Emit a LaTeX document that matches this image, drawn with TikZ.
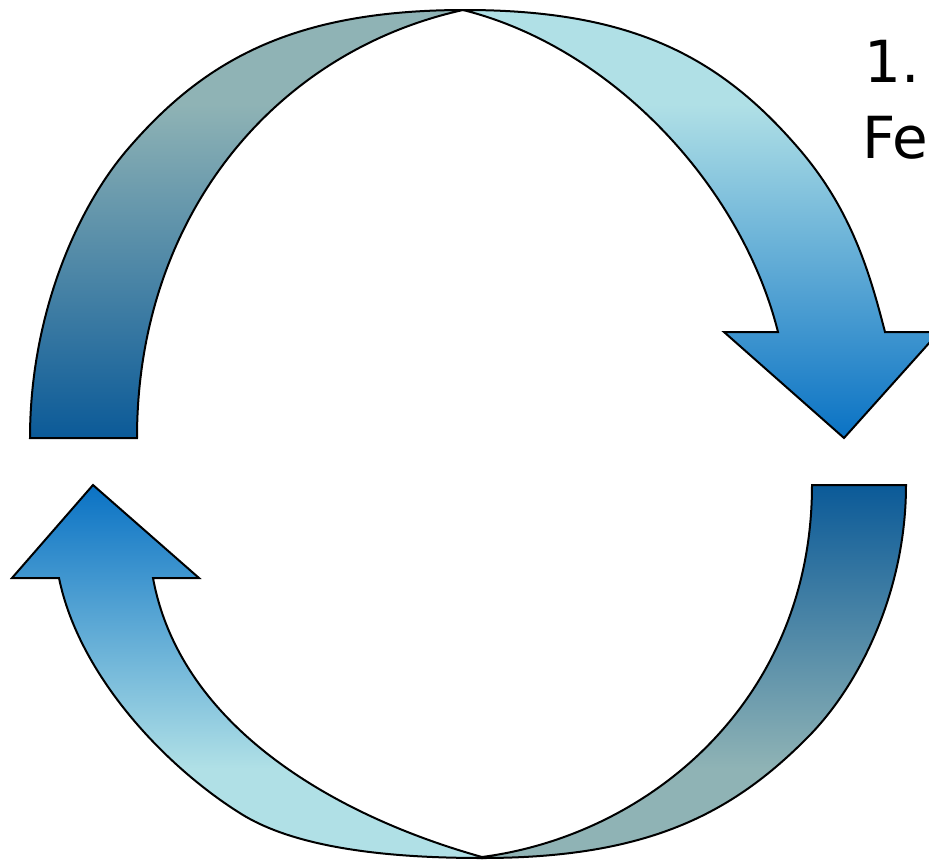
\documentclass[tikz,border=0pt]{standalone}
\usepackage{fontspec}
\setmainfont{DejaVu Sans}
\definecolor{pb}{HTML}{B0E0E6}
\definecolor{bl}{HTML}{0A72C4}
\definecolor{gr}{HTML}{8FB3B5}
\definecolor{db}{HTML}{0B5A98}
\pgfdeclareverticalshading{cyandown}{100bp}{color(0bp)=(bl); color(25bp)=(bl); color(64bp)=(pb); color(100bp)=(pb)}
\pgfdeclareverticalshading{graydown}{100bp}{color(0bp)=(db); color(25bp)=(db); color(64bp)=(gr); color(100bp)=(gr)}
\pgfdeclareverticalshading{grayup}{100bp}{color(0bp)=(gr); color(25bp)=(gr); color(37bp)=(gr); color(75bp)=(db); color(100bp)=(db)}
\pgfdeclareverticalshading{cyanup}{100bp}{color(0bp)=(pb); color(25bp)=(pb); color(37bp)=(pb); color(75bp)=(bl); color(100bp)=(bl)}
\tikzset{
  band/.style={draw=black, line width=2pt, line join=miter},
  lbl/.style={anchor=base west, inner sep=0pt, font=\fontsize{58}{70}\selectfont}
}
\begin{document}
\begin{tikzpicture}[x=1pt,y=-1pt]
\useasboundingbox (0,0) rectangle (929,865);
\clip (0,0) rectangle (929,865);
% top-left band
\path[band, shading=graydown]
  (30,438) .. controls (30,318) and (75,211) .. (127,150)
  .. controls (205,58.8) and (295,10) .. (465,10)
  -- (463,10) .. controls (273,52) and (137,218) .. (137,438) -- cycle;
% top-right arrow
\path[band, shading=cyandown]
  (465,10) .. controls (635,10) and (722,58.8) .. (800,150)
  .. controls (852,211) and (870,274) .. (885,332)
  -- (939,332) -- (844,438) -- (724,332) -- (778,332)
  .. controls (741.5,186.5) and (613,47.5) .. (463,10) -- cycle;
% bottom-right band
\path[band, shading=grayup]
  (812,485) -- (906,485) .. controls (906,589.6) and (861,682.8) .. (809,736)
  .. controls (731,815.5) and (645,858) .. (482,858)
  -- (482,857) .. controls (650,835) and (812,700) .. (812,485) -- cycle;
% bottom-left arrow
\path[band, shading=cyanup]
  (59,578) -- (12,578) -- (93,485) -- (199,578) -- (153,578)
  .. controls (180,725) and (332,815) .. (482,857)
  -- (482,858) .. controls (402,858) and (302.5,851) .. (243,815)
  .. controls (166.5,768) and (79,676) .. (59,578) -- cycle;
\node[lbl] (t1) at (864,82) {1.};
\node[lbl] (t2) at (862,158) {Fe};
\end{tikzpicture}
\end{document}
